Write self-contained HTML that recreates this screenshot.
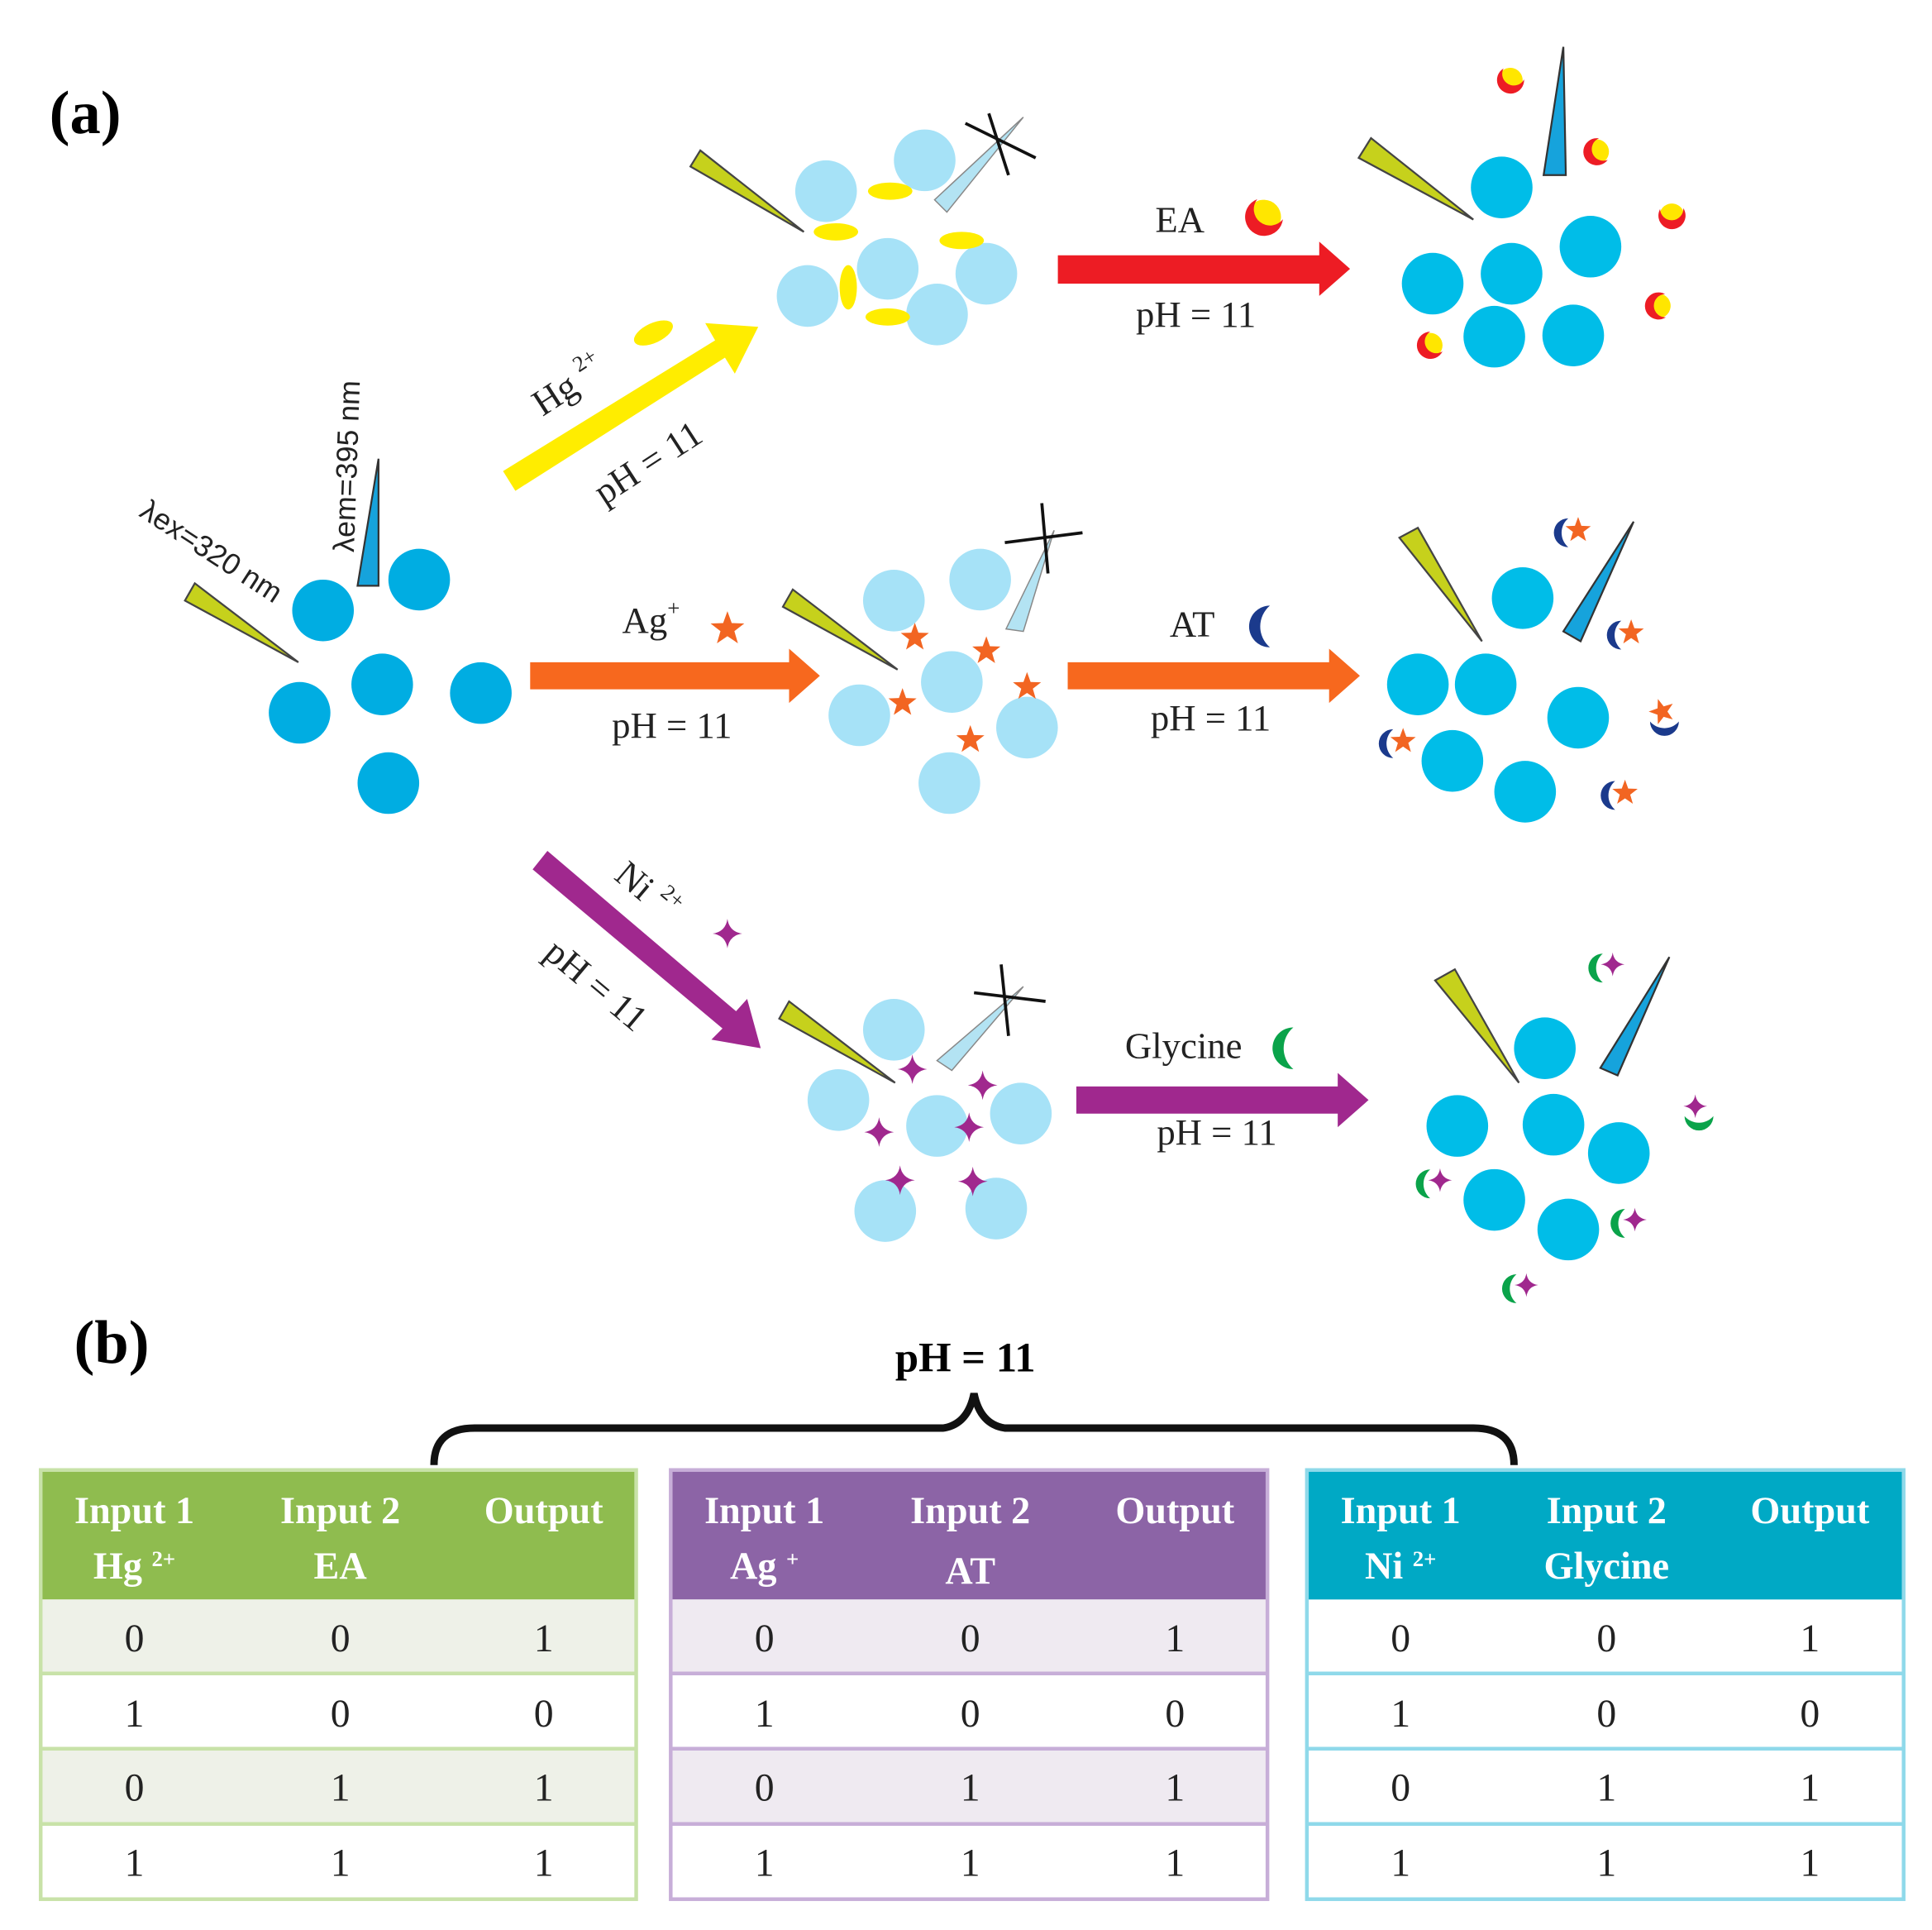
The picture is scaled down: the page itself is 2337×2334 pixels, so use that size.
<!DOCTYPE html>
<html><head><meta charset="utf-8"><style>
html,body{margin:0;padding:0;background:#fff}
svg{display:block}
</style></head><body>
<svg width="2337" height="2334" viewBox="0 0 1567 1565" preserveAspectRatio="none" xmlns="http://www.w3.org/2000/svg">
<defs>
<polygon id="star" points="0,-12 2.9,-4 11.4,-3.7 4.7,1.5 7.1,9.7 0,4.9 -7.1,9.7 -4.7,1.5 -11.4,-3.7 -2.9,-4" fill="#f26522"/>
<path id="spark" d="M0,-12 Q1.5,-1.5 12,0 Q1.5,1.5 0,12 Q-1.5,1.5 -12,0 Q-1.5,-1.5 0,-12Z" fill="#a0288e"/>
<path id="cres" d="M0,-13 A13,13 0 1,0 0,13 A17,17 0 0,1 0,-13Z"/>
<g id="ea"><circle r="10" fill="#ffe600"/><path d="M0,-11 A11,11 0 1,0 10,5 A8,8 0 0,1 0,-11Z" fill="#ed1c24"/></g>
<g id="at"><use href="#cres" fill="#1b3a8c" transform="scale(0.9)"/><use href="#star" transform="translate(8,-2) scale(0.9)"/></g>
<g id="gly"><use href="#cres" fill="#0aa34a" transform="scale(0.9)"/><use href="#spark" transform="translate(8,-3) scale(0.8)"/></g>
</defs>
<g font-family="Liberation Serif, serif">
<text x="40" y="108" font-size="50" font-weight="bold">(a)</text>
<text x="60" y="1105" font-size="50" font-weight="bold">(b)</text>
</g>

<g fill="#00ade2">
<circle cx="262" cy="495" r="25"/><circle cx="340" cy="470" r="25"/><circle cx="243" cy="578" r="25"/>
<circle cx="310" cy="555" r="25"/><circle cx="390" cy="562" r="25"/><circle cx="315" cy="635" r="25"/>
</g>
<polygon points="150,487 158,473 242,537" fill="#c6d11c" stroke="#444" stroke-width="1.5"/>
<polygon points="290,475 307,475 307,372" fill="#16a3dc" stroke="#333" stroke-width="1.5"/>
<g font-family="Liberation Sans, DejaVu Sans, sans-serif" font-size="24" fill="#222">
<text transform="translate(112,418) rotate(33)">λex=320 nm</text>
<text transform="translate(287,448) rotate(-88)">λem=395 nm</text>
</g>

<polygon points="408,382 580,276 572,262 615,265 596,303 588,290 418,398" fill="#ffed00"/>
<polygon points="858,207 1070,207 1070,196 1095,218 1070,240 1070,230 858,230" fill="#ed1c24"/>
<polygon points="430,537 640,537 640,526 665,548 640,570 640,559 430,559" fill="#f7681e"/>
<polygon points="866,537 1078,537 1078,526 1103,548 1078,570 1078,559 866,559" fill="#f7681e"/>
<polygon points="432,705 444,690 597,820 606,810 617,850 577,843 586,834" fill="#a0288e"/>
<polygon points="873,881 1085,881 1085,870 1110,892 1085,914 1085,903 873,903" fill="#a0288e"/>

<g font-family="Liberation Serif, serif" font-size="30" fill="#222">
<text x="957" y="188" text-anchor="middle">EA</text>
<text x="970" y="265" text-anchor="middle">pH = 11</text>
<text x="967" y="516" text-anchor="middle">AT</text>
<text x="982" y="592" text-anchor="middle">pH = 11</text>
<text x="960" y="858" text-anchor="middle">Glycine</text>
<text x="987" y="928" text-anchor="middle">pH = 11</text>
<text x="528" y="513" text-anchor="middle">Ag<tspan font-size="18" dy="-14">+</tspan></text>
<text x="545" y="598" text-anchor="middle">pH = 11</text>
<text transform="translate(440,338) rotate(-33)">Hg <tspan font-size="18" dy="-14">2+</tspan></text>
<text transform="translate(490,410) rotate(-33)">pH = 11</text>
<text transform="translate(497,712) rotate(40)">Ni <tspan font-size="18" dy="-14">2+</tspan></text>
<text transform="translate(440,775) rotate(40)">pH = 11</text>
</g>
<use href="#ea" transform="translate(1025,176) rotate(-20) scale(1.4)"/>
<use href="#cres" fill="#1b3a8c" transform="translate(1030,508) scale(1.3)"/>
<use href="#cres" fill="#0aa34a" transform="translate(1049,850) scale(1.3)"/>
<use href="#star" transform="translate(590,510) scale(1.2)"/>
<use href="#spark" transform="translate(590,757)"/>
<ellipse cx="530" cy="270" rx="17" ry="8" fill="#ffed00" transform="rotate(-25 530 270)"/>

<g fill="#a6e2f7">
<circle cx="670" cy="155" r="25"/><circle cx="750" cy="130" r="25"/><circle cx="720" cy="218" r="25"/>
<circle cx="800" cy="222" r="25"/><circle cx="655" cy="240" r="25"/><circle cx="760" cy="255" r="25"/>
</g>
<g fill="#ffed00">
<ellipse cx="722" cy="155" rx="18" ry="7"/><ellipse cx="678" cy="188" rx="18" ry="7"/>
<ellipse cx="780" cy="195" rx="18" ry="7"/><ellipse cx="688" cy="233" rx="7" ry="18"/>
<ellipse cx="720" cy="257" rx="18" ry="7"/>
</g>
<polygon points="560,135 568,122 652,188" fill="#c6d11c" stroke="#444" stroke-width="1.5"/>
<polygon points="758,162 768,172 830,95" fill="#b3e3f3" stroke="#888" stroke-width="1"/>
<path d="M783,100 L840,128 M802,92 L818,142" stroke="#111" stroke-width="2.5"/>

<g fill="#00bde8">
<circle cx="1218" cy="152" r="25"/><circle cx="1290" cy="200" r="25"/><circle cx="1162" cy="230" r="25"/>
<circle cx="1226" cy="222" r="25"/><circle cx="1212" cy="273" r="25"/><circle cx="1276" cy="272" r="25"/>
</g>
<polygon points="1102,128 1112,112 1195,178" fill="#c6d11c" stroke="#444" stroke-width="1.5"/>
<polygon points="1252,142 1270,142 1268,38" fill="#16a3dc" stroke="#333" stroke-width="1.5"/>
<use href="#ea" transform="translate(1225,65) rotate(-30)"/>
<use href="#ea" transform="translate(1295,123) rotate(10)"/>
<use href="#ea" transform="translate(1356,175) rotate(-60)"/>
<use href="#ea" transform="translate(1345,248) rotate(30)"/>
<use href="#ea" transform="translate(1160,280) rotate(0)"/>

<g fill="#a6e2f7">
<circle cx="725" cy="487" r="25"/><circle cx="795" cy="470" r="25"/><circle cx="772" cy="553" r="25"/>
<circle cx="697" cy="580" r="25"/><circle cx="833" cy="590" r="25"/><circle cx="770" cy="635" r="25"/>
</g>
<use href="#star" transform="translate(742,517)"/><use href="#star" transform="translate(800,528)"/>
<use href="#star" transform="translate(833,557)"/><use href="#star" transform="translate(732,570)"/>
<use href="#star" transform="translate(787,600)"/>
<polygon points="635,492 643,478 728,543" fill="#c6d11c" stroke="#444" stroke-width="1.5"/>
<polygon points="816,510 830,512 855,430" fill="#b3e3f3" stroke="#888" stroke-width="1"/>
<path d="M815,440 L878,432 M845,408 L850,465" stroke="#111" stroke-width="2.5"/>

<g fill="#00bde8">
<circle cx="1235" cy="485" r="25"/><circle cx="1150" cy="555" r="25"/><circle cx="1205" cy="555" r="25"/>
<circle cx="1280" cy="582" r="25"/><circle cx="1178" cy="617" r="25"/><circle cx="1237" cy="642" r="25"/>
</g>
<polygon points="1135,436 1150,428 1202,520" fill="#c6d11c" stroke="#444" stroke-width="1.5"/>
<polygon points="1268,512 1282,520 1325,423" fill="#16a3dc" stroke="#333" stroke-width="1.5"/>
<use href="#at" transform="translate(1272,432)"/><use href="#at" transform="translate(1315,515)"/>
<use href="#at" transform="translate(1350,585) rotate(-90)"/><use href="#at" transform="translate(1130,603)"/>
<use href="#at" transform="translate(1310,645)"/>

<g fill="#a6e2f7">
<circle cx="725" cy="835" r="25"/><circle cx="680" cy="892" r="25"/><circle cx="760" cy="913" r="25"/>
<circle cx="828" cy="903" r="25"/><circle cx="718" cy="982" r="25"/><circle cx="808" cy="980" r="25"/>
</g>
<use href="#spark" transform="translate(740,867)"/><use href="#spark" transform="translate(797,880)"/>
<use href="#spark" transform="translate(713,918)"/><use href="#spark" transform="translate(786,914)"/>
<use href="#spark" transform="translate(730,957)"/><use href="#spark" transform="translate(789,958)"/>
<polygon points="632,826 640,812 726,878" fill="#c6d11c" stroke="#444" stroke-width="1.5"/>
<polygon points="760,860 772,868 830,800" fill="#b3e3f3" stroke="#888" stroke-width="1"/>
<path d="M790,805 L848,812 M812,782 L818,840" stroke="#111" stroke-width="2.5"/>

<g fill="#00bde8">
<circle cx="1253" cy="850" r="25"/><circle cx="1182" cy="913" r="25"/><circle cx="1260" cy="912" r="25"/>
<circle cx="1313" cy="935" r="25"/><circle cx="1212" cy="973" r="25"/><circle cx="1272" cy="997" r="25"/>
</g>
<polygon points="1164,795 1180,786 1232,878" fill="#c6d11c" stroke="#444" stroke-width="1.5"/>
<polygon points="1298,866 1312,872 1354,776" fill="#16a3dc" stroke="#333" stroke-width="1.5"/>
<use href="#gly" transform="translate(1300,785)"/><use href="#gly" transform="translate(1378,905) rotate(-90)"/>
<use href="#gly" transform="translate(1160,960)"/><use href="#gly" transform="translate(1318,992)"/>
<use href="#gly" transform="translate(1230,1045)"/>

<text x="783" y="1112" text-anchor="middle" font-family="Liberation Serif, serif" font-size="34" font-weight="bold">pH = 11</text>
<path d="M352,1188 Q352,1158 385,1158 L765,1158 Q785,1155 790,1130 Q795,1155 815,1158 L1195,1158 Q1228,1158 1228,1188" fill="none" stroke="#111" stroke-width="6"/>

<g font-family="Liberation Serif, serif">
<rect x="32" y="1192" width="485" height="105" fill="#8fbc4f"/>
<rect x="32" y="1297" width="485" height="60" fill="#eef1e8"/>
<rect x="32" y="1418" width="485" height="61" fill="#eef1e8"/>
<g stroke="#c8e2a8" stroke-width="3" fill="none">
<rect x="33" y="1192" width="483" height="348"/>
<line x1="32" y1="1357" x2="517" y2="1357"/><line x1="32" y1="1418" x2="517" y2="1418"/><line x1="32" y1="1479" x2="517" y2="1479"/>
</g>
<rect x="543" y="1192" width="486" height="105" fill="#8c64a6"/>
<rect x="543" y="1297" width="486" height="60" fill="#efeaf1"/>
<rect x="543" y="1418" width="486" height="61" fill="#efeaf1"/>
<g stroke="#c7aed8" stroke-width="3" fill="none">
<rect x="544" y="1192" width="484" height="348"/>
<line x1="543" y1="1357" x2="1029" y2="1357"/><line x1="543" y1="1418" x2="1029" y2="1418"/><line x1="543" y1="1479" x2="1029" y2="1479"/>
</g>
<rect x="1059" y="1192" width="486" height="105" fill="#00a9c5"/>
<g stroke="#8fd9ea" stroke-width="3" fill="none">
<rect x="1060" y="1192" width="484" height="348"/>
<line x1="1059" y1="1357" x2="1545" y2="1357"/><line x1="1059" y1="1418" x2="1545" y2="1418"/><line x1="1059" y1="1479" x2="1545" y2="1479"/>
</g>

<g fill="#fff" font-weight="bold" font-size="31" text-anchor="middle">
<text x="109" y="1235">Input 1</text><text x="276" y="1235">Input 2</text><text x="441" y="1235">Output</text>
<text x="109" y="1280">Hg <tspan font-size="18" dy="-10">2+</tspan></text><text x="276" y="1280">EA</text>
<text x="620" y="1235">Input 1</text><text x="787" y="1235">Input 2</text><text x="953" y="1235">Output</text>
<text x="620" y="1280">Ag <tspan font-size="18" dy="-10">+</tspan></text><text x="787" y="1284">AT</text>
<text x="1136" y="1235">Input 1</text><text x="1303" y="1235">Input 2</text><text x="1468" y="1235">Output</text>
<text x="1136" y="1280">Ni <tspan font-size="18" dy="-10">2+</tspan></text><text x="1303" y="1280">Glycine</text>
</g>
<g fill="#222" font-size="32" text-anchor="middle">
<text x="109" y="1339">0</text><text x="276" y="1339">0</text><text x="441" y="1339">1</text>
<text x="109" y="1400">1</text><text x="276" y="1400">0</text><text x="441" y="1400">0</text>
<text x="109" y="1460">0</text><text x="276" y="1460">1</text><text x="441" y="1460">1</text>
<text x="109" y="1521">1</text><text x="276" y="1521">1</text><text x="441" y="1521">1</text>
<text x="620" y="1339">0</text><text x="787" y="1339">0</text><text x="953" y="1339">1</text>
<text x="620" y="1400">1</text><text x="787" y="1400">0</text><text x="953" y="1400">0</text>
<text x="620" y="1460">0</text><text x="787" y="1460">1</text><text x="953" y="1460">1</text>
<text x="620" y="1521">1</text><text x="787" y="1521">1</text><text x="953" y="1521">1</text>
<text x="1136" y="1339">0</text><text x="1303" y="1339">0</text><text x="1468" y="1339">1</text>
<text x="1136" y="1400">1</text><text x="1303" y="1400">0</text><text x="1468" y="1400">0</text>
<text x="1136" y="1460">0</text><text x="1303" y="1460">1</text><text x="1468" y="1460">1</text>
<text x="1136" y="1521">1</text><text x="1303" y="1521">1</text><text x="1468" y="1521">1</text>
</g>
</g>
</svg>
</body></html>
